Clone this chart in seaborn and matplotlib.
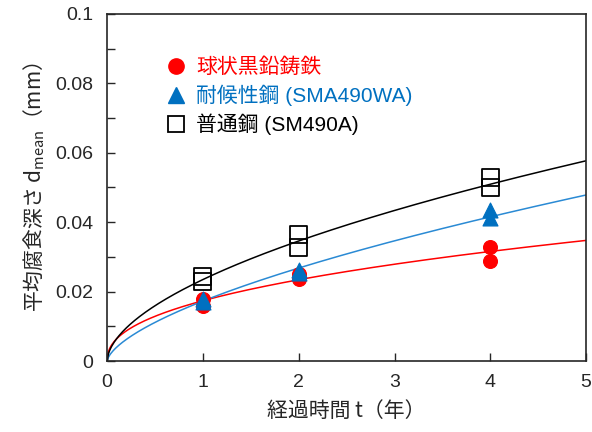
import numpy as np
import pandas as pd
import matplotlib
matplotlib.use("Agg")
import matplotlib.pyplot as plt
import seaborn as sns
from matplotlib.lines import Line2D
from matplotlib.ticker import MultipleLocator

# measured points (years, mm)
years = [1, 1, 2, 2, 4, 4]
ductile_iron = [0.0178, 0.0158, 0.0250, 0.0237, 0.0328, 0.0289]
weathering = [0.0180, 0.0170, 0.0262, 0.0255, 0.0435, 0.0412]
plain_steel = [0.0243, 0.0228, 0.0366, 0.0328, 0.0528, 0.0501]

# fitted curves d = a * t^b
fit_a = {"iron": 0.0174, "wa": 0.0173, "sm": 0.0235}
fit_b = {"iron": 0.43, "wa": 0.632, "sm": 0.558}

labels = ["球状黒鉛鋳鉄", "耐候性鋼 (SMA490WA)", "普通鋼 (SM490A)"]
red, blue, blue_line, black = "#FF0000", "#0070C0", "#2A8AD4", "#000000"

sns.set_style("ticks")
plt.rcParams["font.family"] = ["Noto Sans CJK JP", "DejaVu Sans"]
plt.rcParams["mathtext.fontset"] = "custom"
plt.rcParams["mathtext.rm"] = "Liberation Sans"
plt.rcParams["mathtext.it"] = "Liberation Sans"

pts = pd.DataFrame({"t": years * 3,
                    "d": ductile_iron + weathering + plain_steel,
                    "kind": ["iron"] * 6 + ["wa"] * 6 + ["sm"] * 6})

t = np.linspace(0, 5, 400)
curves = pd.concat([pd.DataFrame({"t": t, "d": fit_a[k] * t ** fit_b[k], "kind": k})
                    for k in ["iron", "wa", "sm"]])

fig, ax = plt.subplots(figsize=(5.92, 4.32), dpi=100)
fig.subplots_adjust(left=0.181, right=0.990, bottom=0.164, top=0.968)

sns.lineplot(data=curves, x="t", y="d", hue="kind",
             palette={"iron": red, "wa": blue_line, "sm": black},
             lw=1.1, legend=False, ax=ax, zorder=2)

sns.scatterplot(data=pts[pts.kind == "iron"], x="t", y="d", color=red, marker="o",
                s=100, edgecolor=red, ax=ax, zorder=3)
sns.scatterplot(data=pts[pts.kind == "wa"], x="t", y="d", color=blue, marker="^",
                s=115, edgecolor=blue, ax=ax, zorder=3)
sns.scatterplot(data=pts[pts.kind == "sm"], x="t", y="d", marker="s", s=150,
                facecolor="none", edgecolor=black, linewidth=1.3, ax=ax, zorder=4)

ax.set_xlim(0, 5)
ax.set_ylim(0, 0.1)
ax.yaxis.set_minor_locator(MultipleLocator(0.01))
ax.set_xticks([0, 1, 2, 3, 4, 5])
ax.set_xticklabels(["0", "1", "2", "3", "4", "5"])
ax.set_yticks([0, 0.02, 0.04, 0.06, 0.08, 0.1])
ax.set_yticklabels(["0", "0.02", "0.04", "0.06", "0.08", "0.1"])
ax.tick_params(axis="both", which="both", direction="in", length=6, width=1,
               labelsize=14, top=False, right=False)
ax.tick_params(axis="y", pad=10)
ax.tick_params(axis="x", pad=9)
for lab in ax.get_xticklabels() + ax.get_yticklabels():
    lab.set_fontfamily("Liberation Sans")
for sp in ax.spines.values():
    sp.set_linewidth(1.2)
    sp.set_visible(True)

ax.set_xlabel("経過時間 t（年）", fontsize=15, labelpad=7)
ax.set_ylabel("平均腐食深さ $\\mathregular{d_{mean}}$（mm）", fontsize=15, labelpad=6)

handles = [
    Line2D([], [], ls="", marker="o", ms=11, color=red),
    Line2D([], [], ls="", marker="^", ms=11, color=blue),
    Line2D([], [], ls="", marker="s", ms=12, mfc="none", mec=black, mew=1.3),
]
leg = ax.legend(handles, labels, loc="upper left", bbox_to_anchor=(0.121, 0.873),
                frameon=False, fontsize=15, handletextpad=0.5, labelspacing=0.35,
                handlelength=1.0, borderaxespad=0, borderpad=0)
for txt, c in zip(leg.get_texts(), [red, blue, black]):
    txt.set_color(c)
    txt.set_fontfamily(["Liberation Sans", "Noto Sans CJK JP"])

fig.savefig("out.png", dpi=100)
